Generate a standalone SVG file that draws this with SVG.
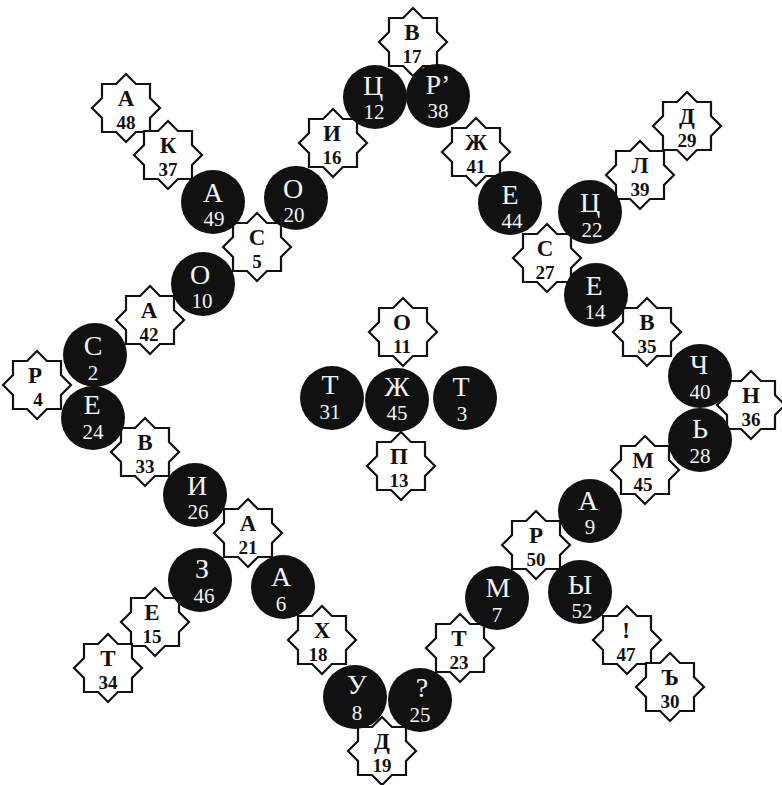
<svg xmlns="http://www.w3.org/2000/svg" width="782" height="785" viewBox="0 0 782 785">
<defs>
<style>
.bg{fill:#fff}
.st{fill:#fff;stroke:#111;stroke-width:2.2;stroke-linejoin:miter}
.ci{fill:#111}
text{font-family:"Liberation Serif","DejaVu Serif",serif;text-anchor:middle}
.sl{font-size:23px;font-weight:bold;fill:#111}
.sn{font-size:19px;font-weight:bold;fill:#111}
.cl{font-size:28px;fill:#f2f2f2}
.cn{font-size:21px;fill:#f2f2f2}
</style>
<polygon id="star" points="0,-34 9.9,-24 24,-24 24,-9.9 34,0 24,9.9 24,24 9.9,24 0,34 -9.9,24 -24,24 -24,9.9 -34,0 -24,-9.9 -24,-24 -9.9,-24"/>
</defs>
<rect class="bg" width="782" height="785"/>
<g id="connectors"></g>
<g id="stars">
<g id="s-a48"><use href="#star" class="st" x="126" y="108"/><text class="sl" x="126" y="106">А</text><text class="sn" x="126" y="129">48</text></g>
<g id="s-k37"><use href="#star" class="st" x="168" y="155"/><text class="sl" x="168" y="153">К</text><text class="sn" x="168" y="176">37</text></g>
<g id="s-s5"><use href="#star" class="st" x="257" y="247"/><text class="sl" x="257" y="245">С</text><text class="sn" x="257" y="268">5</text></g>
<g id="s-i16"><use href="#star" class="st" x="333" y="143"/><text class="sl" x="332" y="141">И</text><text class="sn" x="332" y="164">16</text></g>
<g id="s-v17"><use href="#star" class="st" x="413" y="42"/><text class="sl" x="412" y="40">В</text><text class="sn" x="412" y="63">17</text></g>
<g id="s-zh41"><use href="#star" class="st" x="476" y="152"/><text class="sl" x="476" y="150">Ж</text><text class="sn" x="476" y="173">41</text></g>
<g id="s-l39"><use href="#star" class="st" x="640" y="175"/><text class="sl" x="640" y="173">Л</text><text class="sn" x="640" y="196">39</text></g>
<g id="s-d29"><use href="#star" class="st" x="687" y="126"/><text class="sl" x="687" y="124">Д</text><text class="sn" x="687" y="147">29</text></g>
<g id="s-s27"><use href="#star" class="st" x="547" y="258"/><text class="sl" x="545" y="256">С</text><text class="sn" x="545" y="279">27</text></g>
<g id="s-v35"><use href="#star" class="st" x="647" y="332"/><text class="sl" x="647" y="330">В</text><text class="sn" x="647" y="353">35</text></g>
<g id="s-n36"><use href="#star" class="st" x="751" y="405"/><text class="sl" x="751" y="403">Н</text><text class="sn" x="751" y="426">36</text></g>
<g id="s-m45"><use href="#star" class="st" x="645" y="470"/><text class="sl" x="643" y="468">М</text><text class="sn" x="643" y="491">45</text></g>
<g id="s-r50"><use href="#star" class="st" x="536" y="545"/><text class="sl" x="536" y="543">Р</text><text class="sn" x="536" y="566">50</text></g>
<g id="s-ex47"><use href="#star" class="st" x="627" y="640"/><text class="sl" x="626" y="638">!</text><text class="sn" x="626" y="661">47</text></g>
<g id="s-hs30"><use href="#star" class="st" x="670" y="687"/><text class="sl" x="670" y="685">Ъ</text><text class="sn" x="670" y="708">30</text></g>
<g id="s-t23"><use href="#star" class="st" x="460" y="648"/><text class="sl" x="459" y="646">Т</text><text class="sn" x="459" y="669">23</text></g>
<g id="s-d19"><use href="#star" class="st" x="382" y="751"/><text class="sl" x="382" y="749">Д</text><text class="sn" x="382" y="772">19</text></g>
<g id="s-kh18"><use href="#star" class="st" x="322" y="640"/><text class="sl" x="322" y="638">Х</text><text class="sn" x="318" y="661">18</text></g>
<g id="s-a21"><use href="#star" class="st" x="248" y="533"/><text class="sl" x="248" y="531">А</text><text class="sn" x="248" y="554">21</text></g>
<g id="s-e15"><use href="#star" class="st" x="155" y="622"/><text class="sl" x="152" y="620">Е</text><text class="sn" x="152" y="643">15</text></g>
<g id="s-t34"><use href="#star" class="st" x="108" y="668"/><text class="sl" x="108" y="666">Т</text><text class="sn" x="108" y="689">34</text></g>
<g id="s-v33"><use href="#star" class="st" x="145" y="452"/><text class="sl" x="145" y="450">В</text><text class="sn" x="145" y="473">33</text></g>
<g id="s-r4"><use href="#star" class="st" x="37" y="385"/><text class="sl" x="35" y="383">Р</text><text class="sn" x="38" y="406">4</text></g>
<g id="s-a42"><use href="#star" class="st" x="150" y="320"/><text class="sl" x="149" y="318">А</text><text class="sn" x="149" y="341">42</text></g>
<g id="s-o11"><use href="#star" class="st" x="403" y="332"/><text class="sl" x="402" y="330">О</text><text class="sn" x="402" y="353">11</text></g>
<g id="s-p13"><use href="#star" class="st" x="401" y="466"/><text class="sl" x="399" y="464">П</text><text class="sn" x="399" y="487">13</text></g>
</g>
<g id="circles">
<g id="c-a49"><circle class="ci" cx="213" cy="202" r="32"/><text class="cl" x="213" y="202">А</text><text class="cn" x="214" y="226">49</text></g>
<g id="c-o20"><circle class="ci" cx="296" cy="198" r="32"/><text class="cl" x="293" y="198">О</text><text class="cn" x="294" y="222">20</text></g>
<g id="c-o10"><circle class="ci" cx="203" cy="284" r="32"/><text class="cl" x="200" y="284">О</text><text class="cn" x="202" y="308">10</text></g>
<g id="c-ts12"><circle class="ci" cx="375" cy="97" r="32"/><text class="cl" x="373" y="95">Ц</text><text class="cn" x="374" y="119">12</text></g>
<g id="c-r38"><circle class="ci" cx="438" cy="96" r="32"/><text class="cl" x="438" y="94">Р’</text><text class="cn" x="438" y="118">38</text></g>
<g id="c-e44"><circle class="ci" cx="510" cy="203" r="32"/><text class="cl" x="510" y="204">Е</text><text class="cn" x="512" y="228">44</text></g>
<g id="c-ts22"><circle class="ci" cx="590" cy="212" r="32"/><text class="cl" x="590" y="212">Ц</text><text class="cn" x="592" y="237">22</text></g>
<g id="c-e14"><circle class="ci" cx="596" cy="295" r="32"/><text class="cl" x="594" y="295">Е</text><text class="cn" x="595" y="319">14</text></g>
<g id="c-ch40"><circle class="ci" cx="700" cy="376" r="32"/><text class="cl" x="699" y="374">Ч</text><text class="cn" x="700" y="399">40</text></g>
<g id="c-sf28"><circle class="ci" cx="700" cy="440" r="32"/><text class="cl" x="700" y="438">Ь</text><text class="cn" x="700" y="463">28</text></g>
<g id="c-a9"><circle class="ci" cx="590" cy="511" r="32"/><text class="cl" x="588" y="510">А</text><text class="cn" x="590" y="534">9</text></g>
<g id="c-y52"><circle class="ci" cx="580" cy="592" r="32"/><text class="cl" x="580" y="594">Ы</text><text class="cn" x="582" y="618">52</text></g>
<g id="c-m7"><circle class="ci" cx="497" cy="598" r="32"/><text class="cl" x="498" y="597">М</text><text class="cn" x="497" y="622">7</text></g>
<g id="c-q25"><circle class="ci" cx="420" cy="700" r="32"/><text class="cl" x="422" y="697">?</text><text class="cn" x="420" y="722">25</text></g>
<g id="c-u8"><circle class="ci" cx="355" cy="697" r="32"/><text class="cl" x="357" y="694">У</text><text class="cn" x="357" y="720">8</text></g>
<g id="c-a6"><circle class="ci" cx="283" cy="587" r="32"/><text class="cl" x="281" y="586">А</text><text class="cn" x="281" y="611">6</text></g>
<g id="c-z46"><circle class="ci" cx="200" cy="580" r="32"/><text class="cl" x="202" y="578">З</text><text class="cn" x="204" y="603">46</text></g>
<g id="c-i26"><circle class="ci" cx="195" cy="495" r="32"/><text class="cl" x="197" y="495">И</text><text class="cn" x="198" y="519">26</text></g>
<g id="c-s2"><circle class="ci" cx="95" cy="355" r="32"/><text class="cl" x="93" y="355">С</text><text class="cn" x="93" y="380">2</text></g>
<g id="c-e24"><circle class="ci" cx="93" cy="418" r="32"/><text class="cl" x="92" y="414">Е</text><text class="cn" x="93" y="439">24</text></g>
<g id="c-t31"><circle class="ci" cx="332" cy="398" r="32"/><text class="cl" x="330" y="394">Т</text><text class="cn" x="330" y="419">31</text></g>
<g id="c-zh45"><circle class="ci" cx="397" cy="400" r="32"/><text class="cl" x="397" y="396">Ж</text><text class="cn" x="397" y="420">45</text></g>
<g id="c-t3"><circle class="ci" cx="465" cy="398" r="32"/><text class="cl" x="461" y="396">Т</text><text class="cn" x="462" y="421">3</text></g>
</g>
</svg>
